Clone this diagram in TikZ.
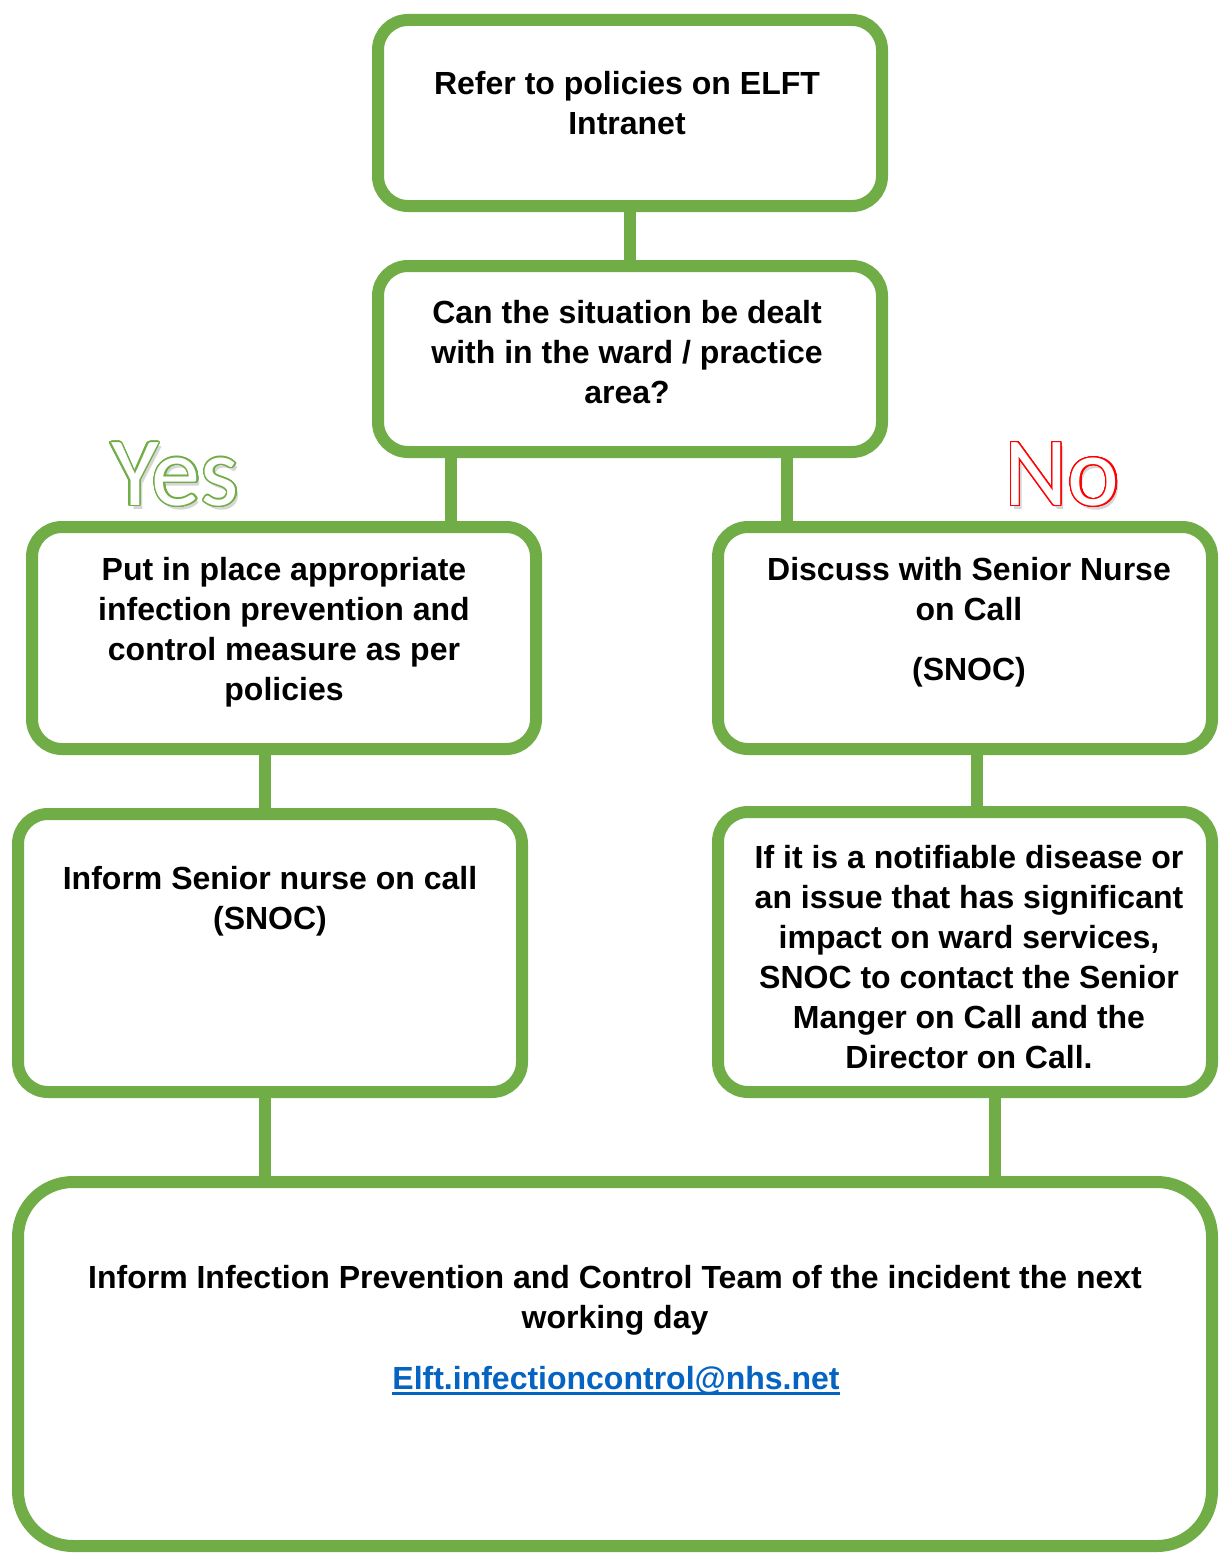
\documentclass[tikz,border=0pt]{standalone}
\usepackage{fontspec}
\setmainfont{Liberation Sans}
\newfontfamily\calfont{Carlito}
\usepackage[copies]{contour}
\contourlength{1.4pt}
\contournumber{32}
\definecolor{boxgreen}{HTML}{70AD47}
\definecolor{linkblue}{HTML}{0563C1}
\definecolor{nored}{HTML}{FF0000}
\begin{document}
\begin{tikzpicture}[x=1pt,y=1pt,
  flowbox/.style={draw=boxgreen, line width=12pt, fill=white, rounded corners=30pt, inner sep=0pt},
  link/.style={draw=boxgreen, line width=12pt},
  label/.style={inner sep=0pt, align=center, font=\fontsize{32}{40}\selectfont\bfseries},
  big/.style={inner sep=0pt, font=\calfont\fontsize{98}{100}\selectfont},
  shadow/.style={big, text=black!16},
]
\useasboundingbox (0,0) rectangle (1218,-1555);

% coordinates for connector x positions
\coordinate (yesx) at (451,0);
\coordinate (nox) at (787,0);
\coordinate (leftx) at (265,0);
\coordinate (rightx) at (977,0);
\coordinate (rightx2) at (995,0);

% box geometry (invisible guides)
\node[flowbox, minimum width=504pt, minimum height=186pt, draw=none, fill=none] (b1g) at (630,-113) {};
\node[flowbox, minimum width=504pt, minimum height=186pt, draw=none, fill=none] (b2g) at (630,-359) {};
\node[flowbox, minimum width=504pt, minimum height=222pt, draw=none, fill=none] (b3g) at (284,-638) {};
\node[flowbox, minimum width=494pt, minimum height=222pt, draw=none, fill=none] (b4g) at (965,-638) {};
\node[flowbox, minimum width=504pt, minimum height=278pt, draw=none, fill=none] (b5g) at (270,-953) {};
\node[flowbox, minimum width=494pt, minimum height=280pt, draw=none, fill=none] (b6g) at (965,-952) {};
\node[flowbox, minimum width=1194pt, minimum height=364pt, draw=none, fill=none] (b7g) at (615,-1364) {};

% connectors (behind boxes)
\draw[link] (b1g.south) -- (b2g.north);
\draw[link] (b2g.south -| yesx) -- (b3g.north -| yesx);
\draw[link] (b2g.south -| nox) -- (b4g.north -| nox);
\draw[link] (b3g.south -| leftx) -- (b5g.north -| leftx);
\draw[link] (b4g.south -| rightx) -- (b6g.north -| rightx);
\draw[link] (b5g.south -| leftx) -- (b7g.north -| leftx);
\draw[link] (b6g.south -| rightx2) -- (b7g.north -| rightx2);

% visible boxes
\node[flowbox, minimum width=504pt, minimum height=186pt] (b1) at (b1g) {};
\node[flowbox, minimum width=504pt, minimum height=186pt] (b2) at (b2g) {};
\node[flowbox, minimum width=504pt, minimum height=222pt] (b3) at (b3g) {};
\node[flowbox, minimum width=494pt, minimum height=222pt] (b4) at (b4g) {};
\node[flowbox, minimum width=504pt, minimum height=278pt] (b5) at (b5g) {};
\node[flowbox, minimum width=494pt, minimum height=280pt] (b6) at (b6g) {};
\node[flowbox, minimum width=1194pt, minimum height=364pt, rounded corners=55pt] (b7) at (b7g) {};

% texts
\node[label] (t1) at (627,-103) {Refer to policies on ELFT\\Intranet};
\node[label] (t2) at (627,-352) {Can the situation be dealt\\with in the ward / practice\\area?};
\node[label] (t3) at (284,-632) {Put in place appropriate\\infection prevention and\\control measure as per\\policies};
\node[label] (t4) at (969,-622) {Discuss with Senior Nurse\\on Call\\[20pt](SNOC)};
\node[label] (t5) at (270,-901) {Inform Senior nurse on call\\(SNOC)};
\node[label] (t6) at (969,-957) {If it is a notifiable disease or\\an issue that has significant\\impact on ward services,\\SNOC to contact the Senior\\Manger on Call and the\\Director on Call.};
\node[label] (t7) at (615,-1300) {Inform Infection Prevention and Control Team of the incident the next\\working day};
\node[label, text=linkblue] (email) at (616,-1380) {Elft.infectioncontrol@nhs.net};
\draw[linkblue, line width=3pt] ([yshift=-4pt]email.base west) -- ([yshift=-4pt]email.base east);

% Yes / No
\node[shadow] (yesshadow) at (178,-478) {Yes};
\node[big] (yes) at (175,-475) {\color{white}\contour{boxgreen}{Yes}};
\node[shadow] (noshadow) at (1065,-478) {No};
\node[big] (no) at (1062,-475) {\color{white}\contour{nored}{No}};
\end{tikzpicture}
\end{document}
